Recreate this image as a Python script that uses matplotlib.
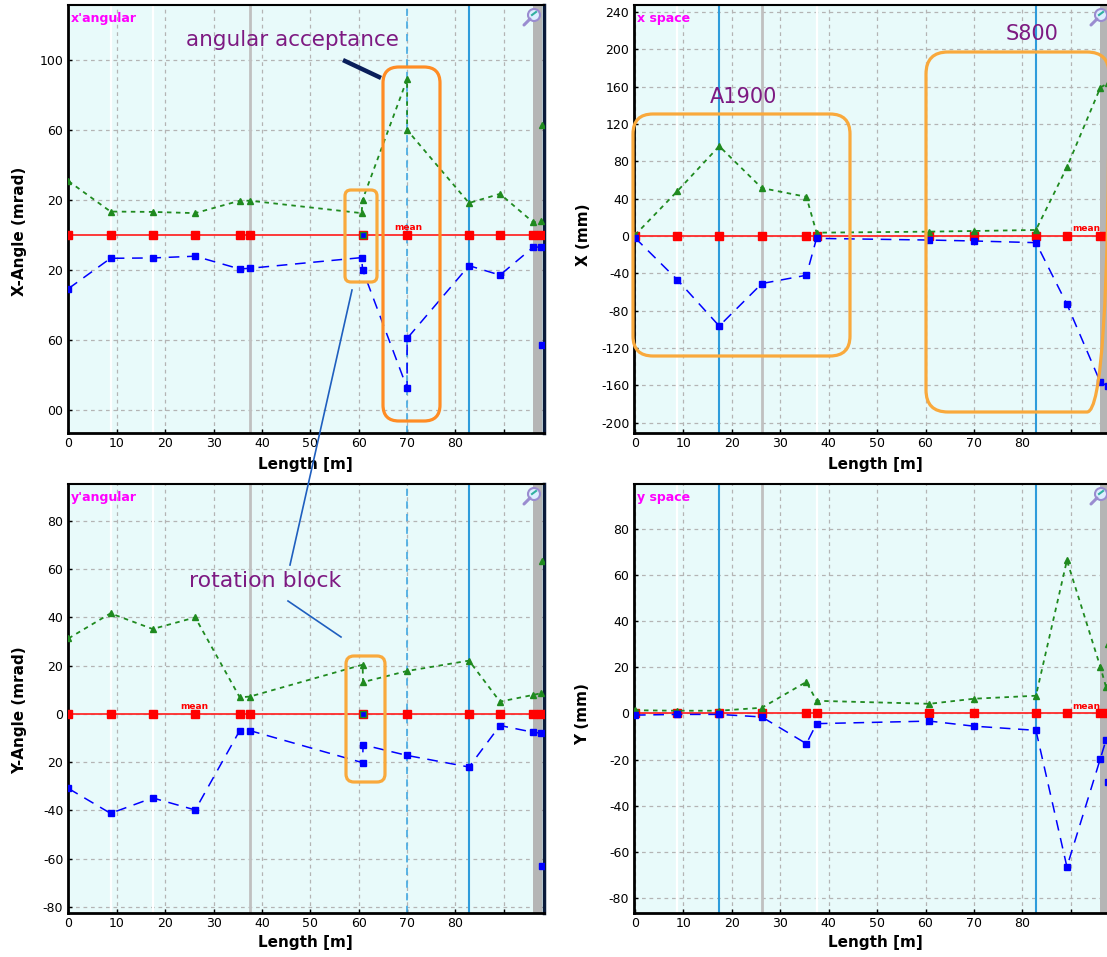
import matplotlib
matplotlib.use('Agg')
import matplotlib.pyplot as plt
from matplotlib.patches import FancyBboxPatch, Circle

# ---------------- data ----------------
positions = [0, 8.7, 17.4, 26.2, 35.4, 37.5, 60.8, 70.0, 82.8, 89.2, 96.1, 97.7]
mean_vals = [0, 0, 0, 0, 0, 0, 0, 0, 0, 0, 0, 0]

# x' angular envelope (mrad)
xa_x   = [0, 8.7, 17.4, 26.2, 35.4, 37.5, 60.6, 60.8, 70.0, 70.0, 82.8, 89.2, 96.1, 97.7, 97.9]
xa_max = [30.8, 13.4, 13.2, 12.5, 19.6, 19.6, 12.5, 20.2, 89.0, 60.0, 18.3, 23.5, 7.2, 8.0, 63.0]
xa_min = [-30.6, -13.3, -13.1, -12.1, -19.4, -19.0, -12.9, -19.8, -87.4, -59.1, -17.5, -22.9, -6.9, -6.9, -62.8]

# x space envelope (mm)
xs_x   = [0, 8.7, 17.4, 26.2, 35.4, 37.5, 60.8, 70.0, 82.8, 89.2, 96.1, 97.7]
xs_max = [1.0, 47.8, 96.3, 51.4, 42.0, 3.6, 4.7, 5.4, 6.5, 73.7, 159.0, 164.0]
xs_min = [-1.8, -46.6, -96.4, -50.9, -42.0, -2.5, -4.3, -5.3, -7.1, -73.0, -156.6, -160.9]

# y' angular envelope (mrad)
ya_x   = [0, 8.7, 17.4, 26.2, 35.4, 37.5, 60.8, 60.9, 70.0, 82.8, 89.2, 96.1, 97.7, 97.9]
ya_max = [31.3, 41.7, 35.2, 40.0, 6.9, 7.2, 20.4, 13.2, 17.8, 22.1, 5.1, 7.9, 8.6, 63.2]
ya_min = [-30.9, -41.2, -34.8, -39.8, -6.9, -6.9, -20.2, -12.8, -17.2, -22.0, -4.8, -7.6, -8.0, -63.2]

# y space envelope (mm)
ys_x   = [0, 8.7, 17.4, 26.2, 35.4, 37.5, 60.8, 70.0, 82.8, 89.2, 96.1, 97.3, 97.7]
ys_max = [1.4, 1.2, 1.2, 2.5, 13.7, 5.5, 4.2, 6.4, 7.7, 66.4, 20.2, 11.3, 30.3]
ys_min = [-0.7, -0.4, -0.4, -1.5, -13.1, -4.4, -3.3, -5.5, -7.3, -66.5, -19.6, -11.3, -29.8]

xticks = [0, 10, 20, 30, 40, 50, 60, 70, 80, 90]
xticklabels = ['0', '10', '20', '30', '40', '50', '60', '70', '80', '']

xa_yticks = [100, 60, 20, -20, -60, -100]
xa_yticklabels = ['100', '60', '20', '20', '60', '00']
xs_yticks = [240, 200, 160, 120, 80, 40, 0, -40, -80, -120, -160, -200]
xs_yticklabels = ['240', '200', '160', '120', '80', '40', '0', '-40', '-80', '-120', '-160', '-200']
ya_yticks = [80, 60, 40, 20, 0, -20, -40, -60, -80]
ya_yticklabels = ['80', '60', '40', '20', '0', '20', '-40', '-60', '-80']
ys_yticks = [80, 60, 40, 20, 0, -20, -40, -60, -80]
ys_yticklabels = ['80', '60', '40', '20', '0', '-20', '-40', '-60', '-80']

# ---------------- figure ----------------
plt.rcParams['font.family'] = ['DejaVu Sans']
W, H = 1107, 957
fig = plt.figure(figsize=(W / 100, H / 100), dpi=100)
fig.patch.set_facecolor('white')


def rect(l, t, r, b):
    return [l / W, 1 - b / H, (r - l) / W, (b - t) / H]


GREEN = '#1F8A1F'
BLUE = '#0000FF'
RED = '#FF0000'
VBLUE = '#2E9CDB'


def panel(box, xlim, ylim, yticks, yticklabels, ex, emax, emin, title,
          kind, mean_x, connect_last):
    ax = fig.add_axes(rect(*box))
    ax.set_facecolor('#E8FAFA')
    ax.set_xlim(*xlim)
    ax.set_ylim(*ylim)
    ax.set_xticks(xticks)
    ax.set_xticklabels(xticklabels)
    ax.set_yticks(yticks)
    ax.set_yticklabels(yticklabels)
    ax.set_axisbelow(True)
    ax.grid(True, color='#B4B4B4', linestyle=(0, (3, 3)), lw=0.9)
    ax.tick_params(direction='in', length=3, width=1, labelsize=9, pad=3,
                   colors='black')
    for s in ['left', 'bottom']:
        ax.spines[s].set_linewidth(2)
        ax.spines[s].set_color('black')
    ax.spines['top'].set_linewidth(1.5)
    ax.spines['right'].set_linewidth(2.5)
    ax.spines['right'].set_color('#0A1A3A')

    # element markers
    if kind == 'left':
        for xv in [8.7, 17.4]:
            ax.axvline(xv, color='white', lw=1.6, zorder=1)
        ax.axvline(37.5, color='#C0C0C0', lw=2, zorder=1.5)
        ax.axvline(70.0, color='#4FAEE3', lw=1.3, ls=(0, (4, 3)), zorder=1.5)
        ax.axvline(82.8, color=VBLUE, lw=1.5, zorder=1.5)
    else:
        for xv in [8.7, 37.5]:
            ax.axvline(xv, color='white', lw=1.6, zorder=1)
        ax.axvline(17.4, color=VBLUE, lw=1.5, zorder=1.5)
        ax.axvline(26.2, color='#C0C0C0', lw=2, zorder=1.5)
        ax.axvline(82.8, color=VBLUE, lw=1.5, zorder=1.5)
    ax.axvspan(96.1, 97.95, color='#B5B5B5', lw=0, zorder=1.6)

    # mean
    ax.axhline(0, color='#FF2A2A', lw=1.3, zorder=3)
    ax.plot(positions, mean_vals, ls='none', marker='s', ms=5.5, color=RED,
            zorder=3.5)
    if kind == 'left':
        ax.plot([positions[6]], [mean_vals[6]], ls='none', marker='s', ms=4,
                mfc=BLUE, mec=GREEN, mew=1, zorder=3.6)
    ax.text(mean_x, 0.006 * (ylim[1] - ylim[0]), 'mean', color=RED,
            fontsize=6.5, fontweight='bold', ha='center', va='bottom',
            zorder=3.5)

    n = len(ex) if connect_last else len(ex) - 1
    ax.plot(ex[:n], emax[:n], color=GREEN, lw=1.3, ls=(0, (2.5, 2.5)), zorder=4)
    ax.plot(ex, emax, ls='none', marker='^', ms=4.5, color=GREEN, zorder=5)
    ax.plot(ex[:n], emin[:n], color=BLUE, lw=1.1, ls=(0, (7, 5)), zorder=4)
    ax.plot(ex, emin, ls='none', marker='s', ms=5, color=BLUE, zorder=5)

    ax.text(0.008, 0.984, title, transform=ax.transAxes, ha='left', va='top',
            color='#FF00FF', fontweight='bold', fontsize=9, zorder=6)
    return ax


panel((67.5, 5, 544, 433), (-0.2, 98.3), (-113.1, 131.4), xa_yticks,
      xa_yticklabels, xa_x, xa_max, xa_min, "x'angular", 'left', 70.3, False)
panel((633.5, 5, 1111, 433), (-0.3, 98.3), (-211, 247.5), xs_yticks,
      xs_yticklabels, xs_x, xs_max, xs_min, 'x space', 'right', 93.1, True)
panel((67.5, 484, 544, 913), (-0.2, 98.3), (-82.5, 95.3), ya_yticks,
      ya_yticklabels, ya_x, ya_max, ya_min, "y'angular", 'left', 26.0, False)
panel((633.5, 484, 1111, 913), (-0.3, 98.3), (-86.5, 99.5), ys_yticks,
      ys_yticklabels, ys_x, ys_max, ys_min, 'y space', 'right', 93.1, False)

# ---------------- overlay (pixel coordinates) ----------------
ov = fig.add_axes([0, 0, 1, 1], zorder=20)
ov.set_xlim(0, W)
ov.set_ylim(H, 0)
ov.axis('off')
ov.patch.set_alpha(0)

# axis labels
for (x, y) in [(305, 465), (875, 465), (305, 943), (875, 943)]:
    ov.text(x, y, 'Length [m]', fontsize=11, fontweight='bold', ha='center',
            va='center')
ov.text(20, 231, 'X-Angle (mrad)', fontsize=11, fontweight='bold',
        rotation=90, ha='center', va='center')
ov.text(583, 235, 'X (mm)', fontsize=11, fontweight='bold', rotation=90,
        ha='center', va='center')
ov.text(20, 710, 'Y-Angle (mrad)', fontsize=11, fontweight='bold',
        rotation=90, ha='center', va='center')
ov.text(583, 714, 'Y (mm)', fontsize=11, fontweight='bold', rotation=90,
        ha='center', va='center')

# magnifier icons
for (cx, cy) in [(533, 16), (1100, 16), (533, 495), (1100, 495)]:
    ov.add_patch(Circle((cx + 1, cy - 1), 6, facecolor='#DDEEFF',
                        edgecolor='#9A8CD0', lw=1.5, zorder=21))
    ov.plot([cx - 3, cx - 9], [cy + 3, cy + 9], color='#9A8CD0', lw=2.2,
            zorder=21, solid_capstyle='round')
    ov.plot([cx - 1, cx + 3], [cy - 1, cy - 4], color='#30B0A0', lw=1.5,
            zorder=22)

ORANGE = '#FF8C24'
ORANGE2 = '#F9A93C'


def rbox(x0, y0, x1, y1, r, color):
    ov.add_patch(FancyBboxPatch((x0, y0), x1 - x0, y1 - y0,
                                boxstyle='round,pad=0,rounding_size=%g' % r,
                                facecolor='none', edgecolor=color, lw=2.3,
                                zorder=21))


rbox(383, 67, 440, 421, 16, ORANGE)
rbox(345, 190, 377, 282, 6, ORANGE2)
rbox(346, 656, 385, 782, 8, ORANGE2)
rbox(633, 114, 850, 356, 20, ORANGE2)
rbox(926, 52, 1109, 412, 22, ORANGE2)

PURPLE = '#7D1A82'
ov.text(292, 40, 'angular acceptance', color=PURPLE, fontsize=15.5,
        ha='center', va='center', zorder=22)
ov.text(265, 581, 'rotation block', color=PURPLE, fontsize=15.8,
        ha='center', va='center', zorder=22)
ov.text(744, 97, 'A1900', color=PURPLE, fontsize=15, ha='center',
        va='center', zorder=22)
ov.text(1032, 34, 'S800', color=PURPLE, fontsize=15, ha='center',
        va='center', zorder=22)

ov.plot([345, 379], [61, 77], color='#0A1E5A', lw=3.2, zorder=22)
ov.plot([352, 290], [290, 565], color='#1F5FBF', lw=1.2, zorder=22)
ov.plot([288, 341], [601, 637], color='#1F5FBF', lw=1.2, zorder=22)

fig.savefig('out.png', dpi=100)
